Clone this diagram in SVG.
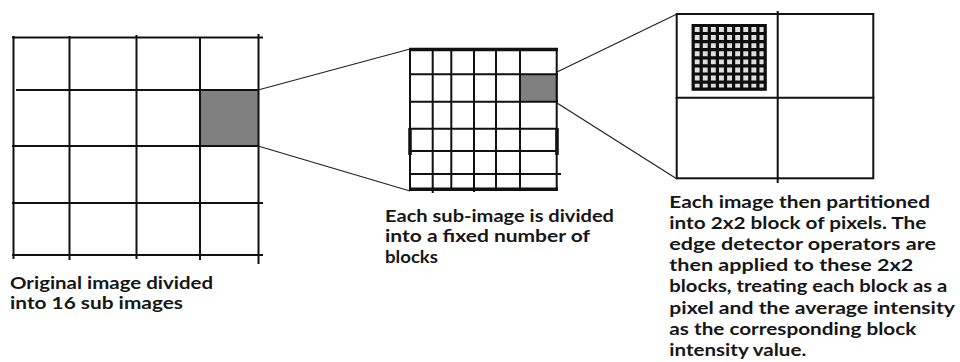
<svg xmlns="http://www.w3.org/2000/svg" width="960" height="362" viewBox="0 0 960 362">
  <style>
    .grid { stroke: #111; stroke-width: 2; fill: none; stroke-linecap: square; }
    .thick { stroke: #111; stroke-width: 3.5; fill: none; }
    .fine { stroke: #0d0d0d; stroke-width: 3.2; fill: none; }
    .link { stroke: #222; stroke-width: 1.2; fill: none; }
    .shade { fill: #808080; }
    .label { font-family: "Lato", "Open Sans", "Liberation Sans", sans-serif; font-weight: 700; font-size: 16.8px; fill: #161616; }
  </style>

  <rect width="960" height="362" fill="#ffffff"/>

  <!-- Original image: 4x4 grid of sub images -->
  <g id="original-image">
    <rect class="shade" x="200" y="90" width="58" height="56"/>
    <path class="grid" d="M13.5 37v221 M69.5 37v222 M136.5 36v222 M200 38v221 M258.5 35v228
                          M13 37.5h249 M17 90h241 M13 146h244 M13 203h249 M13 255h249"/>
  </g>

  <!-- One sub image divided into blocks -->
  <g id="sub-image">
    <rect class="shade" x="521" y="74" width="37" height="28"/>
    <path class="grid" d="M410 49v141 M432.7 49v143 M451.3 49v141 M474 49v142 M496 49v141 M520 49v141 M556.7 49v141
                          M410 74.3h147 M410 101.7h147 M410 128.7h147 M410 151h147 M410 174h150"/>
    <path class="thick" d="M409 49.5h149 M409 189.3h149 M410 128v27 M557 128v27"/>
  </g>

  <!-- Single block split into 2x2 pixel blocks -->
  <g id="block">
    <rect class="grid" x="676.7" y="14" width="196.6" height="164.3"/>
    <path class="grid" d="M777.7 12v170 M676.7 97.7h196.6"/>
    <g id="pixel-grid">
      <rect x="691.7" y="24" width="75" height="66.7" fill="#dedede"/>
      <path class="fine" d="M693.2 24v66.7 M701.2 24v66.7 M709.3 24v66.7 M717.4 24v66.7 M725.5 24v66.7 M733.6 24v66.7 M741.7 24v66.7 M749.8 24v66.7 M757.9 24v66.7 M765.2 24v66.7
                            M691.7 25.5h75 M691.7 33.5h75 M691.7 41.6h75 M691.7 49.7h75 M691.7 57.8h75 M691.7 65.9h75 M691.7 74h75 M691.7 82.1h75 M691.7 89.2h75"/>
    </g>
  </g>

  <!-- Zoom connectors -->
  <g id="connectors">
    <line class="link" x1="258" y1="90" x2="410" y2="49"/>
    <line class="link" x1="258" y1="146" x2="410" y2="191"/>
    <line class="link" x1="557" y1="72" x2="677" y2="14"/>
    <line class="link" x1="557" y1="103" x2="677" y2="179"/>
  </g>

  <!-- Captions -->
  <g id="caption-original">
    <text class="label" x="10" y="289" textLength="203" lengthAdjust="spacingAndGlyphs">Original image divided</text>
    <text class="label" x="10" y="309.3" textLength="173" lengthAdjust="spacingAndGlyphs">into 16 sub images</text>
  </g>
  <g id="caption-sub-image">
    <text class="label" x="385" y="221.7" textLength="229" lengthAdjust="spacingAndGlyphs">Each sub-image is divided</text>
    <text class="label" x="385" y="242" textLength="205" lengthAdjust="spacingAndGlyphs">into a fixed number of</text>
    <text class="label" x="385" y="262.6" textLength="53" lengthAdjust="spacingAndGlyphs">blocks</text>
  </g>
  <g id="caption-block">
    <text class="label" x="669.3" y="207.5" textLength="260.7" lengthAdjust="spacingAndGlyphs">Each image then partitioned</text>
    <text class="label" x="669.3" y="228.7" textLength="257" lengthAdjust="spacingAndGlyphs">into 2x2 block of pixels. The</text>
    <text class="label" x="669.3" y="249.9" textLength="266.7" lengthAdjust="spacingAndGlyphs">edge detector operators are</text>
    <text class="label" x="669.3" y="271.1" textLength="244" lengthAdjust="spacingAndGlyphs">then applied to these 2x2</text>
    <text class="label" x="669.3" y="292.3" textLength="278" lengthAdjust="spacingAndGlyphs">blocks, treating each block as a</text>
    <text class="label" x="669.3" y="313.5" textLength="285.7" lengthAdjust="spacingAndGlyphs">pixel and the average intensity</text>
    <text class="label" x="669.3" y="334.7" textLength="247" lengthAdjust="spacingAndGlyphs">as the corresponding block</text>
    <text class="label" x="669.3" y="355.9" textLength="137" lengthAdjust="spacingAndGlyphs">intensity value.</text>
  </g>
</svg>
